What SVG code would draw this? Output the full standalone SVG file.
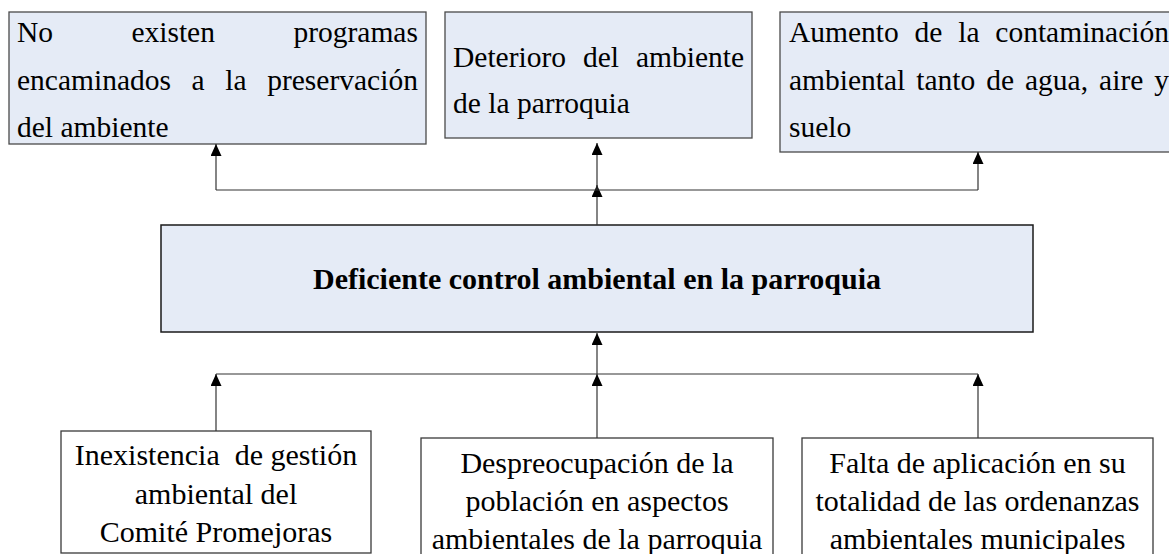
<svg xmlns="http://www.w3.org/2000/svg" width="1169" height="554" viewBox="0 0 1169 554">
<defs>
<style>
.box{fill:#E5EBF6;stroke:#4a4a4a;stroke-width:1.3}
.cbox{fill:#E5EBF6;stroke:#1a1a1a;stroke-width:1.5}
.wbox{fill:#ffffff;stroke:#3a3a3a;stroke-width:1.3}
.t{font-family:"Liberation Serif","Times New Roman",serif;font-size:29.5px;fill:#000}
.b{font-family:"Liberation Serif","Times New Roman",serif;font-size:30px;fill:#000;text-anchor:middle;white-space:pre}
.c{font-family:"Liberation Serif","Times New Roman",serif;font-size:30px;font-weight:bold;fill:#000;text-anchor:middle}
.ln{fill:none;stroke:#333;stroke-width:1.2}
.ar{fill:none;stroke:#333;stroke-width:1.2;marker-end:url(#ah)}
</style>
<marker id="ah" markerUnits="userSpaceOnUse" markerWidth="13" markerHeight="12" refX="12" refY="5.5" orient="auto">
<path d="M0,0 L12,5.5 L0,11 z" fill="#000"/>
</marker>
</defs>

<g id="node-effect1">
<rect class="box" x="9" y="12" width="417" height="132"/>
<text class="t" y="42"><tspan x="17">No</tspan><tspan x="131.4">existen</tspan><tspan x="293.4">programas</tspan></text>
<text class="t" y="89.5"><tspan x="17">encaminados</tspan><tspan x="191.6">a</tspan><tspan x="225.3">la</tspan><tspan x="267.2">preservación</tspan></text>
<text class="t" x="17" y="137">del ambiente</text>
</g>

<g id="node-effect2">
<rect class="box" x="445" y="12" width="307" height="126"/>
<text class="t" y="67"><tspan x="453">Deterioro</tspan><tspan x="583">del</tspan><tspan x="635.9">ambiente</tspan></text>
<text class="t" x="453" y="113">de la parroquia</text>
</g>

<g id="node-effect3">
<rect class="box" x="780" y="12" width="397" height="140"/>
<text class="t" y="42"><tspan x="789">Aumento</tspan><tspan x="914.6">de</tspan><tspan x="958.2">la</tspan><tspan x="995.3">contaminación</tspan></text>
<text class="t" y="89.5"><tspan x="789">ambiental</tspan><tspan x="916.3">tanto</tspan><tspan x="986.2">de</tspan><tspan x="1025">agua,</tspan><tspan x="1099.1">aire</tspan><tspan x="1154.2">y</tspan></text>
<text class="t" x="789" y="137">suelo</text>
</g>

<g id="node-problem">
<rect class="cbox" x="161" y="225" width="872" height="107"/>
<text class="c" x="597" y="289">Deficiente control ambiental en la parroquia</text>
</g>

<g id="node-cause1">
<rect class="wbox" x="61" y="431" width="310" height="122"/>
<text class="b" x="216" y="465">Inexistencia  de gestión</text>
<text class="b" x="216" y="503.5">ambiental del</text>
<text class="b" x="216" y="542">Comité Promejoras</text>
</g>

<g id="node-cause2">
<rect class="wbox" x="421" y="438" width="352" height="130"/>
<text class="b" x="597" y="473">Despreocupación de la</text>
<text class="b" x="597" y="511">población en aspectos</text>
<text class="b" x="597" y="549">ambientales de la parroquia</text>
</g>

<g id="node-cause3">
<rect class="wbox" x="802" y="438" width="351" height="130"/>
<text class="b" x="977.5" y="473">Falta de aplicación en su</text>
<text class="b" x="977.5" y="511">totalidad de las ordenanzas</text>
<text class="b" x="977.5" y="549">ambientales municipales</text>
</g>

<g id="connectors">
<path class="ar" d="M597,225 V185"/>
<path class="ln" d="M216,190 H978"/>
<path class="ar" d="M216,190 V144"/>
<path class="ar" d="M597,190 V143"/>
<path class="ar" d="M978,190 V152"/>
<path class="ar" d="M597,374 V333"/>
<path class="ln" d="M216,374 H978"/>
<path class="ar" d="M216,431 V374"/>
<path class="ar" d="M597,438 V374"/>
<path class="ar" d="M978,438 V374"/>
</g>
</svg>
